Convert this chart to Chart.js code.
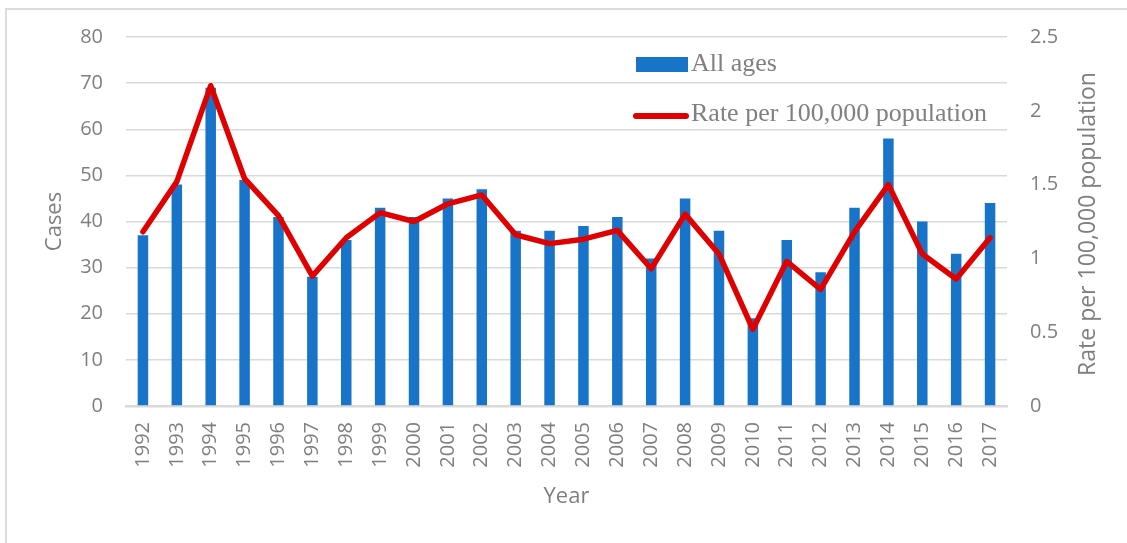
<!DOCTYPE html>
<html>
<head>
<meta charset="utf-8">
<script src="https://cdn.jsdelivr.net/npm/chart.js@4.4.1/dist/chart.umd.min.js"></script>
<style>
  body { margin: 0; background: #fff; }
  #wrap { position: relative; width: 1127px; height: 543px; overflow: hidden; }
  #frame { position: absolute; left: 5px; top: 8px; width: 1200px; height: 600px;
    border-left: 2px solid #dcdcdc; border-top: 2px solid #dcdcdc; }
  canvas { position: absolute; left: 0; top: 0; }
  .legend-text { position: absolute; font-family: "Liberation Serif", serif; font-size: 26px;
    line-height: 26px; color: #808080; white-space: nowrap; }
  .rtitle { position: absolute; width: 400px; text-align: center; font-family: "Open Sans", sans-serif;
    font-size: 23px; line-height: 26px; color: #7f7f7f; transform: rotate(-90deg); white-space: nowrap; }
</style>
</head>
<body>
<div id="wrap">
  <div id="frame"></div>
  <canvas id="myChart" width="1127" height="543"></canvas>
  <div style="position:absolute;left:636px;top:57px;width:52px;height:15px;background:#1874c8"></div>
  <div class="legend-text" style="left:691px;top:50px">All ages</div>
  <div style="position:absolute;left:633px;top:113px;width:56px;height:6px;border-radius:3px;background:#e00000"></div>
  <div class="legend-text" style="left:691px;top:100px">Rate per 100,000 population</div>
  <div class="rtitle" style="left:886px;top:211px">Rate per 100,000 population</div>
</div>
<script>
const years = ['1992', '1993', '1994', '1995', '1996', '1997', '1998', '1999', '2000', '2001',
  '2002', '2003', '2004', '2005', '2006', '2007', '2008', '2009', '2010', '2011',
  '2012', '2013', '2014', '2015', '2016', '2017'];
const cases = [37, 48, 69, 49, 41, 28, 36, 43, 41, 45,
  47, 38, 38, 39, 41, 32, 45, 38, 19, 36,
  29, 43, 58, 40, 33, 44];
const rate = [1.18, 1.52, 2.17, 1.54, 1.29, 0.88, 1.14, 1.31, 1.25, 1.37,
  1.43, 1.16, 1.10, 1.13, 1.19, 0.93, 1.30, 1.03, 0.52, 0.98,
  0.79, 1.18, 1.50, 1.03, 0.86, 1.14];
const rateTicks = ['0', '0.5', '1', '1.5', '2', '2.5'];

const gray = '#7f7f7f';
const ctx = document.getElementById('myChart').getContext('2d');
// eslint-disable-next-line
const myChart = new Chart(ctx, {
  type: 'bar',
  data: {
    labels: years,
    datasets: [
      {
        type: 'line',
        label: 'Rate per 100,000 population',
        data: rate,
        yAxisID: 'yRate',
        borderColor: '#e00000',
        borderWidth: 5.5,
        pointRadius: 0,
        borderJoinStyle: 'round',
        borderCapStyle: 'round',
        tension: 0,
        order: 0,
      },
      {
        label: 'All ages',
        data: cases,
        yAxisID: 'y',
        backgroundColor: '#1874c8',
        barPercentage: 0.31,
        categoryPercentage: 1,
        order: 1,
      },
    ],
  },
  options: {
    responsive: false,
    animation: false,
    layout: { padding: { left: 42, right: 0, top: 37, bottom: 33 } },
    plugins: { legend: { display: false }, tooltip: { enabled: false } },
    scales: {
      x: {
        grid: { display: false, drawTicks: false },
        border: { display: true, color: '#d9d9d9', width: 2.5 },
        ticks: {
          color: gray, font: { family: 'Open Sans', size: 20 },
          maxRotation: 90, minRotation: 90, autoSkip: false, padding: 16,
        },
        title: { display: true, text: 'Year', color: gray, font: { family: 'Open Sans', size: 22 }, padding: 0 },
        afterFit: (scale) => { scale.height = 104; },
      },
      y: {
        position: 'left',
        min: 0,
        max: 80,
        grid: { color: '#d9d9d9', lineWidth: 1.5, drawTicks: false },
        border: { display: false },
        ticks: { stepSize: 10, color: gray, font: { family: 'Open Sans', size: 20 }, padding: 23 },
        title: { display: true, text: 'Cases', color: gray, font: { family: 'Open Sans', size: 22 }, padding: 0 },
        afterFit: (scale) => { scale.width = 84; },
      },
      yRate: {
        position: 'right',
        min: 0,
        max: 2.5,
        grid: { drawOnChartArea: false, drawTicks: false },
        border: { display: false },
        ticks: {
          stepSize: 0.5, color: gray, font: { family: 'Open Sans', size: 20 }, padding: 23,
          callback: (v, i) => rateTicks[i],
        },
        afterFit: (scale) => { scale.width = 120; },
      },
    },
  },
});
</script>
</body>
</html>
